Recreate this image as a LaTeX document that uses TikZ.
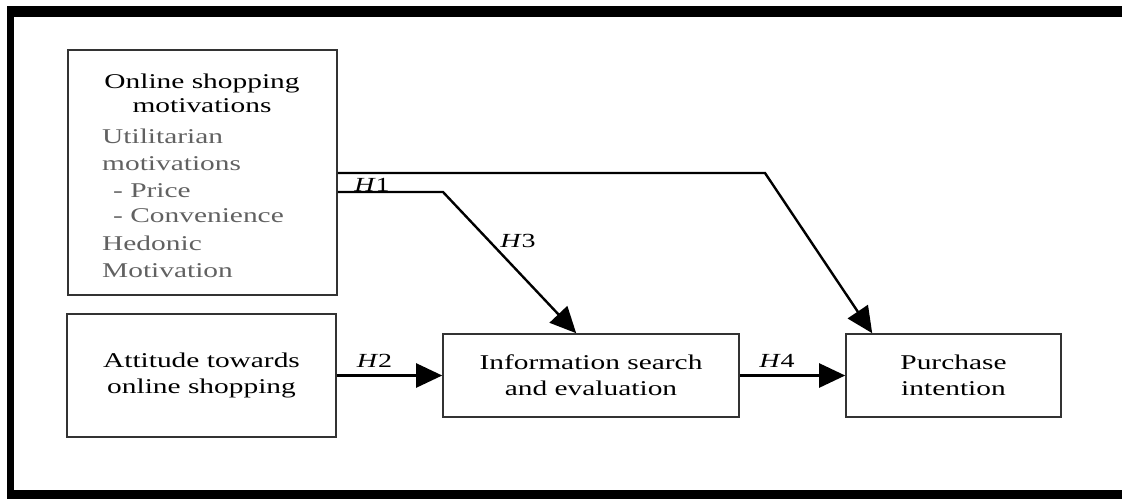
\documentclass[tikz,border=0pt]{standalone}
\usepackage{fontspec}
\setmainfont{Liberation Serif}[FakeStretch=1.4]
\usetikzlibrary{arrows.meta,calc}
\begin{document}
\begin{tikzpicture}[x=1pt,y=-1pt,
  box/.style={draw=black!80, line width=1.6pt, inner sep=0pt, align=center,
    font=\fontsize{21}{26}\selectfont},
  txt/.style={inner sep=0pt, font=\fontsize{21}{26}\selectfont},
  sub/.style={txt, text=black!62, anchor=base west},
  conn/.style={line width=2.4pt, -{Triangle[length=26pt,width=24pt]}},
  hyp/.style={inner sep=0pt, anchor=base, font=\fontsize{20}{24}\selectfont}]
\useasboundingbox (0,0) rectangle (1122,499);

% heavy frame: top, left and bottom bars
\fill (7,6) rectangle (1122,17);
\fill (7,6) rectangle (14,499);
\fill (7,490) rectangle (1122,499);

% boxes
\node[box, minimum width=269pt, minimum height=245pt] (mot) at (202.5,172.5) {};
\node[box, minimum width=269pt, minimum height=123pt] (att) at (201.5,375.5)
  {Attitude towards\\online shopping};
\node[box, minimum width=296pt, minimum height=83pt] (info) at (591,375.5)
  {Information search\\and evaluation};
\node[box, minimum width=215pt, minimum height=83pt] (pur) at (953.5,375.5)
  {Purchase\\intention};

% contents of the motivations box
\node[txt, anchor=base] (t1) at (202,88) {Online shopping};
\node[txt, anchor=base] (t2) at (202,112) {motivations};
\foreach \s/\x/\y [count=\i] in {Utilitarian/102/143, motivations/102/170,
    - Price/113/197, - Convenience/113/222, Hedonic/102/250, Motivation/102/277}
  \node[sub] (g\i) at (\x,\y) {\s};

% bend points of the two long paths
\coordinate (b1) at (765,173);
\coordinate (b3) at (443,192);

% connectors
\draw[conn] (mot.east |- b1) -- (b1) -- ($(pur.north west)+(27,0)$);
\draw[conn] (mot.east |- b3) -- (b3) -- ($(info.north west)+(134,0)$);
\draw[conn] (att.east |- info.west) -- (info.west);
\draw[conn] (info.east) -- (pur.west);

% hypothesis labels
\node[hyp] (h1) at (372,191) {\textit{H}1};
\node[hyp] (h3) at (518,247) {\textit{H}3};
\node[hyp] (h2) at (374.5,367) {\textit{H}2};
\node[hyp] (h4) at (777,367) {\textit{H}4};
\end{tikzpicture}
\end{document}
